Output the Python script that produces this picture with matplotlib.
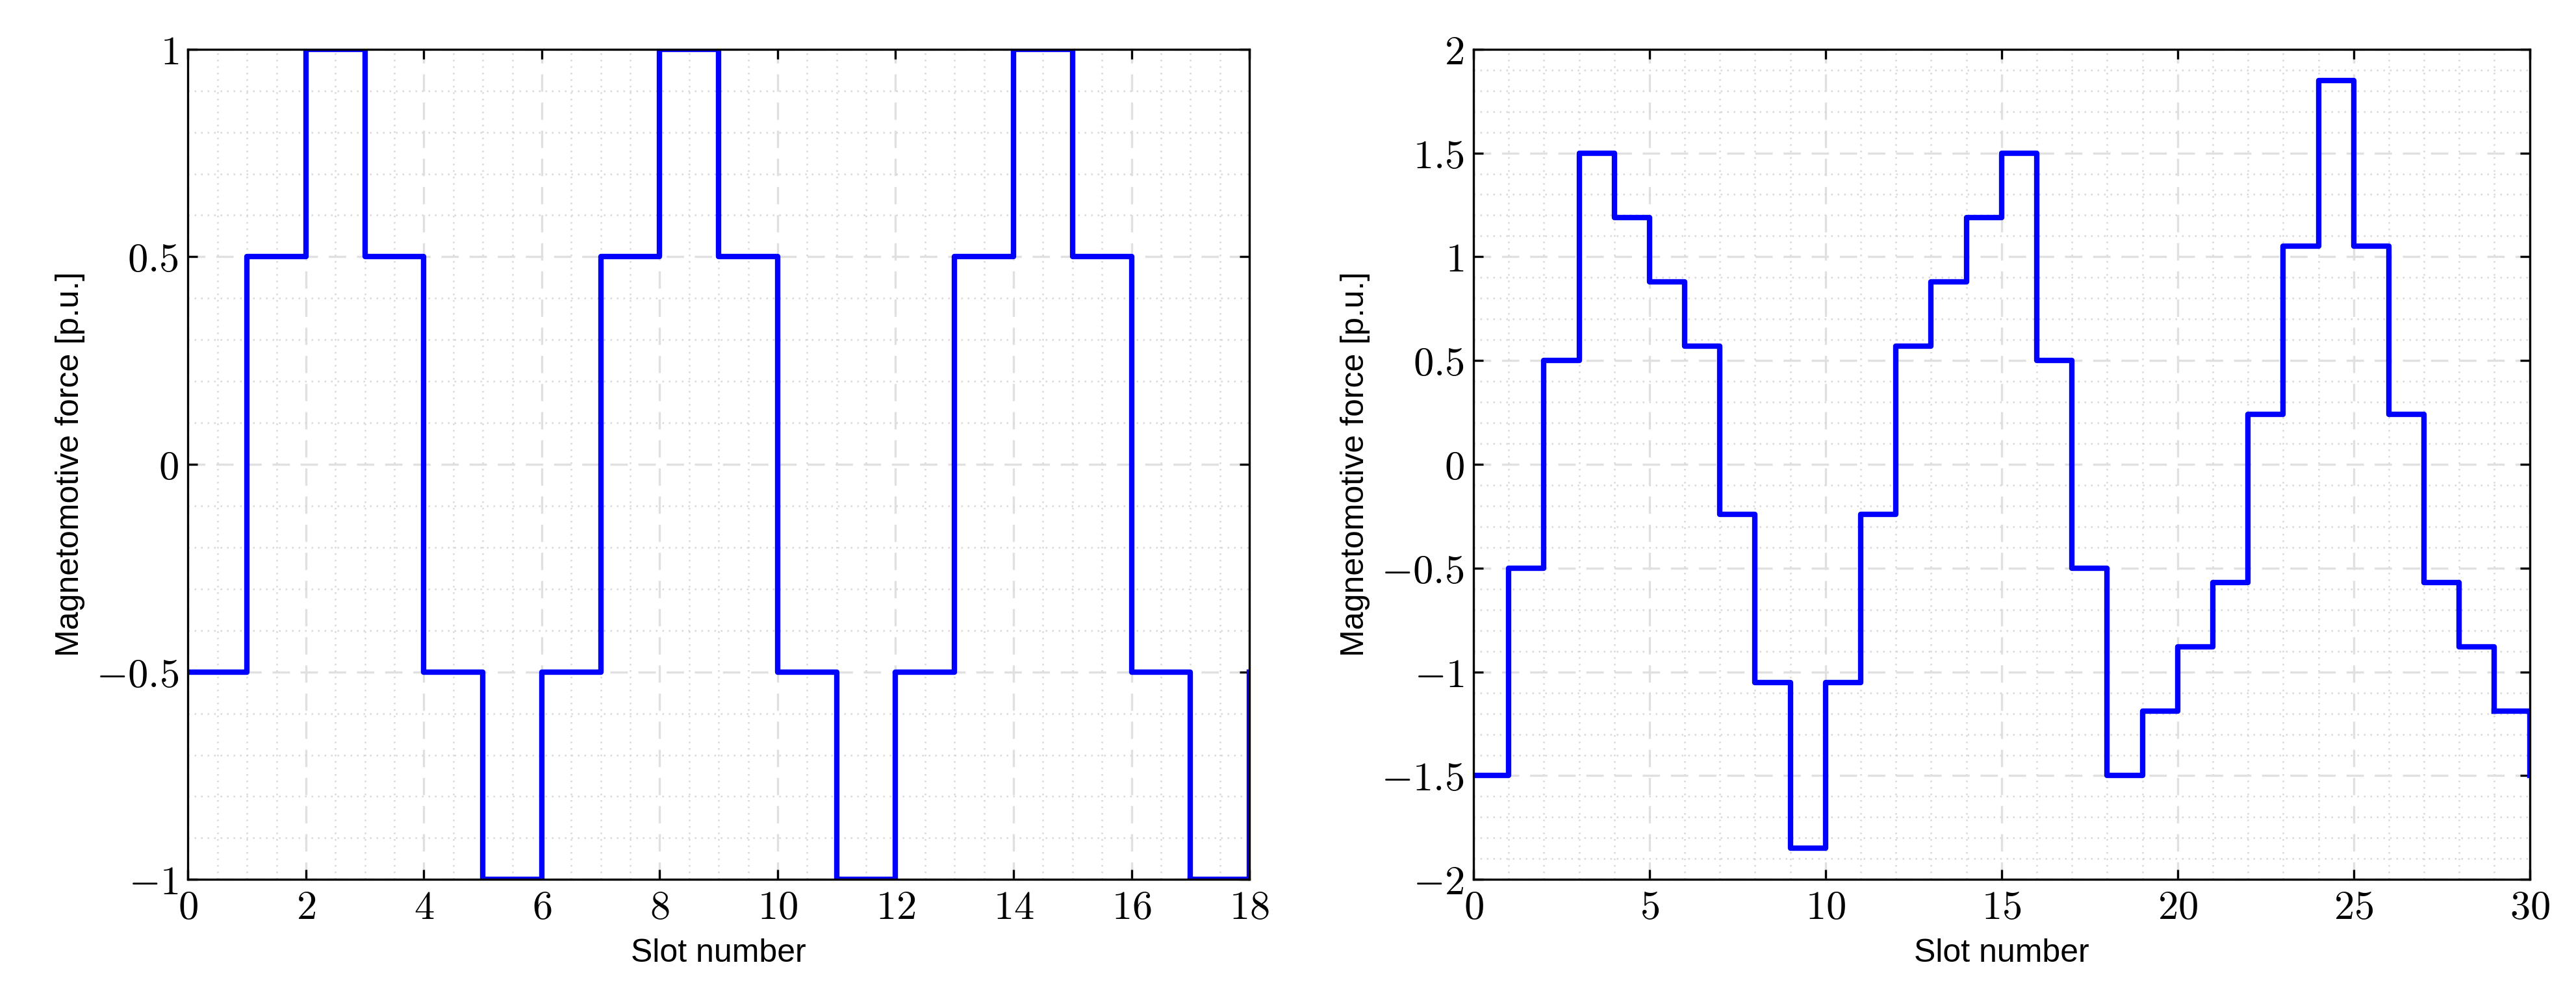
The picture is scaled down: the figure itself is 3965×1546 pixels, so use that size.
import numpy as np
import matplotlib.pyplot as plt
from matplotlib.ticker import MultipleLocator, FuncFormatter

plt.rcParams['mathtext.fontset'] = 'cm'
plt.rcParams['font.family'] = ['Liberation Sans', 'DejaVu Sans']

# step values (one per slot), last value repeated for the end of the step
mmf_left = [-0.5, 0.5, 1, 0.5, -0.5, -1, -0.5, 0.5, 1, 0.5, -0.5, -1,
            -0.5, 0.5, 1, 0.5, -0.5, -1, -0.5]
mmf_right = [-1.5, -0.5, 0.5, 1.5, 1.19, 0.88, 0.57, -0.24, -1.05, -1.85,
             -1.05, -0.24, 0.57, 0.88, 1.19, 1.5, 0.5, -0.5, -1.5, -1.19,
             -0.88, -0.57, 0.24, 1.05, 1.85, 1.05, 0.24, -0.57, -0.88, -1.19, -1.5]


def fmt(v, pos):
    return r"$%g$" % round(v, 3)


def draw(ax, vals, xmaj, xmin, ymaj, ylim):
    x = np.arange(len(vals))
    ax.step(x[:-1], vals[:-1], where='post', color='blue', lw=2)
    ax.plot([x[-2], x[-1], x[-1]], [vals[-2], vals[-2], vals[-1]], color='blue', lw=2)
    ax.set_xlim(0, len(vals) - 1)
    ax.set_ylim(*ylim)
    ax.xaxis.set_major_locator(MultipleLocator(xmaj))
    ax.xaxis.set_minor_locator(MultipleLocator(xmin))
    ax.yaxis.set_major_locator(MultipleLocator(ymaj))
    ax.yaxis.set_minor_locator(MultipleLocator(0.1))
    ax.xaxis.set_major_formatter(FuncFormatter(fmt))
    ax.yaxis.set_major_formatter(FuncFormatter(fmt))
    ax.grid(which='major', color='#e0e0e0', linestyle=(0, (8, 5)), lw=0.8)
    ax.grid(which='minor', color='#d8d8d8', linestyle=(0, (1, 3)), lw=0.6)
    ax.tick_params(which='both', direction='in', top=True, right=True, labelsize=15)
    ax.tick_params(which='minor', length=0)
    ax.set_xlabel('Slot number', fontsize=12)
    ax.set_ylabel('Magnetomotive force [p.u.]', fontsize=12)
    ax.set_axisbelow(True)


fig = plt.figure(figsize=(3965 / 300, 1546 / 300), dpi=300)
ax1 = fig.add_axes([0.073, 0.124, 0.412, 0.827])
ax2 = fig.add_axes([0.572, 0.124, 0.410, 0.827])
draw(ax1, mmf_left, 2, 0.5, 0.5, (-1, 1))
draw(ax2, mmf_right, 5, 1, 0.5, (-2, 2))
fig.savefig('out.png', dpi=300)
